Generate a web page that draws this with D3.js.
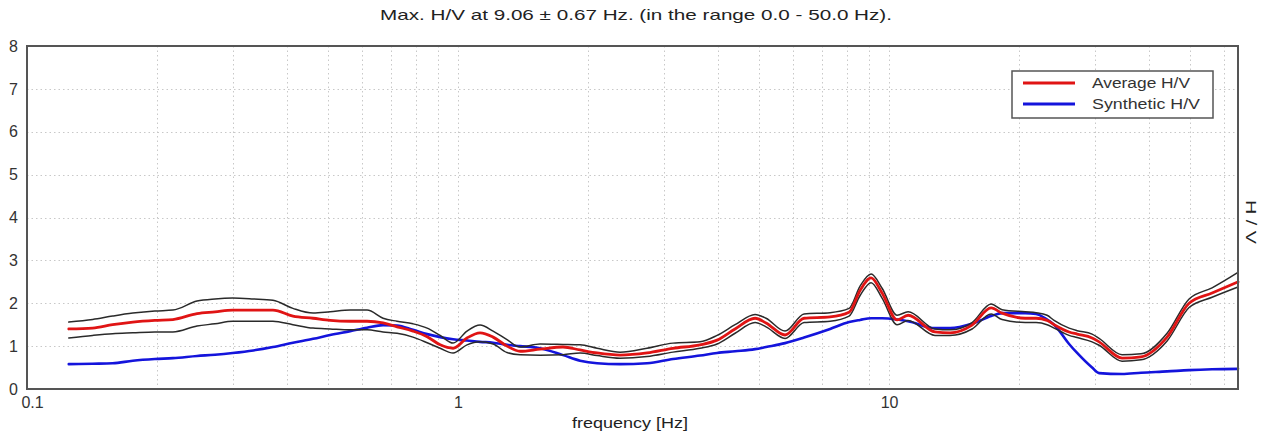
<!DOCTYPE html>
<html>
<head>
<meta charset="utf-8">
<script src="https://cdn.jsdelivr.net/npm/d3@7"></script>
<style>
  html, body { margin: 0; padding: 0; background: #ffffff; }
  svg { display: block; font-family: "Liberation Sans", Arial, sans-serif; }
</style>
</head>
<body>
<svg id="chart" width="1264" height="437"></svg>
<script>
// Frequency samples (Hz)
const frequency = [
  0.125, 0.142, 0.158, 0.176, 0.198, 0.218, 0.248, 0.273, 0.30, 0.335, 0.372, 0.414,
  0.461, 0.505, 0.562, 0.615, 0.670, 0.722, 0.786, 0.848, 0.909, 0.974,
  1.049, 1.125, 1.206, 1.299, 1.393, 1.550, 1.752, 1.919, 2.102, 2.376, 2.745, 3.153,
  3.643, 3.990, 4.393, 4.888, 5.183, 5.738, 6.351, 7.298, 8.077, 8.566, 9.085, 9.634,
  10.44, 11.07, 12.78, 13.85, 15.58, 17.25, 18.29, 20.69, 21.94, 23.26, 24.15, 26.16,
  27.31, 29.58, 30.71, 34.72, 38.43, 44.16, 49.67, 56.16, 64.5
];

// Average H/V curve
const averageHV = [
  1.40, 1.42, 1.50, 1.56, 1.60, 1.62, 1.76, 1.80, 1.84, 1.84, 1.84, 1.70,
  1.65, 1.60, 1.58, 1.58, 1.54, 1.45, 1.35, 1.22, 1.03, 0.95,
  1.19, 1.31, 1.21, 1.00, 0.88, 0.93, 0.98, 0.91, 0.84, 0.79, 0.84, 0.95,
  1.03, 1.14, 1.40, 1.65, 1.54, 1.26, 1.65, 1.68, 1.79, 2.30, 2.59, 2.24,
  1.61, 1.72, 1.33, 1.31, 1.49, 1.89, 1.77, 1.65, 1.65, 1.60, 1.50, 1.33,
  1.28, 1.19, 1.10, 0.72, 0.75, 1.21, 2.00, 2.24, 2.50
];

// Average H/V + standard deviation
const upperHV = [
  1.56, 1.62, 1.70, 1.77, 1.82, 1.84, 2.05, 2.10, 2.12, 2.10, 2.07, 1.88,
  1.77, 1.80, 1.84, 1.84, 1.65, 1.58, 1.52, 1.42, 1.25, 1.07,
  1.35, 1.49, 1.35, 1.15, 0.98, 1.05, 1.04, 1.03, 0.95, 0.86, 0.95, 1.07,
  1.10, 1.25, 1.50, 1.74, 1.65, 1.35, 1.75, 1.78, 1.88, 2.40, 2.68, 2.35,
  1.72, 1.80, 1.40, 1.38, 1.55, 1.98, 1.85, 1.80, 1.78, 1.72, 1.60, 1.42,
  1.36, 1.28, 1.18, 0.80, 0.82, 1.30, 2.10, 2.36, 2.72
];

// Average H/V - standard deviation
const lowerHV = [
  1.19, 1.25, 1.29, 1.31, 1.33, 1.33, 1.47, 1.52, 1.58, 1.58, 1.58, 1.50,
  1.42, 1.40, 1.38, 1.38, 1.33, 1.30, 1.21, 1.08, 0.95, 0.84,
  1.03, 1.10, 1.05, 0.85, 0.80, 0.79, 0.80, 0.84, 0.78, 0.72, 0.76, 0.86,
  0.95, 1.05, 1.30, 1.55, 1.45, 1.18, 1.55, 1.58, 1.70, 2.18, 2.48, 2.12,
  1.50, 1.60, 1.25, 1.25, 1.40, 1.75, 1.62, 1.55, 1.55, 1.50, 1.42, 1.25,
  1.20, 1.10, 1.02, 0.65, 0.68, 1.12, 1.90, 2.14, 2.38
];

// Synthetic H/V curve
const syntheticHV = [
  0.58, 0.59, 0.60, 0.66, 0.70, 0.72, 0.77, 0.80, 0.84, 0.90, 0.98, 1.08,
  1.17, 1.26, 1.35, 1.43, 1.49, 1.48, 1.38, 1.28, 1.21, 1.16,
  1.13, 1.10, 1.08, 1.03, 1.00, 0.95, 0.79, 0.66, 0.60, 0.58, 0.60, 0.70,
  0.78, 0.84, 0.88, 0.93, 0.98, 1.07, 1.20, 1.40, 1.56, 1.61, 1.65, 1.65,
  1.62, 1.58, 1.42, 1.42, 1.52, 1.70, 1.77, 1.77, 1.75, 1.62, 1.50, 1.05,
  0.84, 0.50, 0.37, 0.35, 0.38, 0.41, 0.44, 0.46, 0.47
];

const xTickValues = [0.1, 1, 10];
const yTickValues = [0, 1, 2, 3, 4, 5, 6, 7, 8];
const xGridValues = [0.2, 0.3, 0.4, 0.5, 0.6, 0.7, 0.8, 0.9,
                     1, 2, 3, 4, 5, 6, 7, 8, 9,
                     10, 20, 30, 40, 50, 60];
const titleText = "Max. H/V at 9.06 \u00B1 0.67 Hz. (in the range 0.0 - 50.0 Hz).";
const xLabel = "frequency [Hz]";
const yLabel = "H / V";
const legendLabels = ["Average H/V", "Synthetic H/V"];

const svg = d3.select("#chart");
const plot = { left: 27, right: 1238, top: 46, bottom: 389 };

const x = d3.scaleLog().domain([0.1, 64.5]).range([plot.left, plot.right]);
const y = d3.scaleLinear().domain([0, 8]).range([plot.bottom, plot.top]);

// Dotted grid
const grid = svg.append("g").attr("stroke", "#c8c8c8").attr("stroke-width", 1)
  .attr("stroke-dasharray", "1.5 3");
grid.selectAll("line.v").data(xGridValues).join("line")
  .attr("class", "v")
  .attr("x1", d => Math.round(x(d)) + 0.5).attr("x2", d => Math.round(x(d)) + 0.5)
  .attr("y1", plot.top).attr("y2", plot.bottom);
grid.selectAll("line.h").data(yTickValues.slice(1, -1)).join("line")
  .attr("class", "h")
  .attr("x1", plot.left).attr("x2", plot.right)
  .attr("y1", d => Math.round(y(d)) + 0.5).attr("y2", d => Math.round(y(d)) + 0.5);

// Curves
const line = vals => d3.line()
  .x((d, i) => x(frequency[i]))
  .y(d => y(d))
  .curve(d3.curveMonotoneX)(vals);

const curves = svg.append("g").attr("fill", "none")
  .attr("stroke-linejoin", "round").attr("stroke-linecap", "round");
curves.append("path").attr("d", line(syntheticHV))
  .attr("stroke", "#1414dc").attr("stroke-width", 2.6);
curves.append("path").attr("d", line(upperHV))
  .attr("stroke", "#2a2a2a").attr("stroke-width", 1.5);
curves.append("path").attr("d", line(lowerHV))
  .attr("stroke", "#2a2a2a").attr("stroke-width", 1.5);
curves.append("path").attr("d", line(averageHV))
  .attr("stroke", "#e01414").attr("stroke-width", 2.8);

// Axes
const xAxis = d3.axisBottom(x).tickValues(xTickValues)
  .tickFormat(d3.format("~g")).tickSize(0).tickPadding(8);
const gx = svg.append("g").attr("transform", `translate(0,${plot.bottom})`).call(xAxis);
gx.select(".domain").remove();
gx.selectAll("text").attr("font-size", 16).attr("fill", "#333")
  .attr("font-family", "'Liberation Sans', Arial, sans-serif")
  .attr("dx", d => d === 0.1 ? 5 : 0);

const yAxis = d3.axisLeft(y).tickValues(yTickValues).tickSize(0).tickPadding(9);
const gy = svg.append("g").attr("transform", `translate(${plot.left},0)`).call(yAxis);
gy.select(".domain").remove();
gy.selectAll("text").attr("font-size", 16).attr("fill", "#333")
  .attr("font-family", "'Liberation Sans', Arial, sans-serif");

// Frame
svg.append("rect")
  .attr("x", plot.left).attr("y", plot.top)
  .attr("width", plot.right - plot.left).attr("height", plot.bottom - plot.top)
  .attr("fill", "none").attr("stroke", "#555").attr("stroke-width", 2);

// Titles
svg.append("text").attr("x", 636).attr("y", 20).attr("text-anchor", "middle")
  .attr("font-size", 15).attr("fill", "#222")
  .attr("textLength", 512).attr("lengthAdjust", "spacingAndGlyphs").text(titleText);
svg.append("text").attr("x", 630).attr("y", 428).attr("text-anchor", "middle")
  .attr("font-size", 15).attr("fill", "#222")
  .attr("textLength", 116).attr("lengthAdjust", "spacingAndGlyphs").text(xLabel);
svg.append("text").attr("transform", "translate(1246,222) rotate(90)")
  .attr("text-anchor", "middle").attr("font-size", 15).attr("fill", "#222")
  .attr("textLength", 44).attr("lengthAdjust", "spacingAndGlyphs").text(yLabel);

// Legend
const legend = svg.append("g").attr("transform", "translate(1012,71)");
legend.append("rect").attr("width", 201).attr("height", 47)
  .attr("fill", "#fff").attr("stroke", "#555").attr("stroke-width", 1.5);
const legendColors = ["#e01414", "#1414dc"];
const legendWidths = [98, 108];
legendLabels.forEach((lab, i) => {
  const yy = 12 + i * 21;
  legend.append("line").attr("x1", 11).attr("x2", 63).attr("y1", yy).attr("y2", yy)
    .attr("stroke", legendColors[i]).attr("stroke-width", 3);
  legend.append("text").attr("x", 80).attr("y", yy + 5)
    .attr("font-size", 14).attr("fill", "#333")
    .attr("textLength", legendWidths[i]).attr("lengthAdjust", "spacingAndGlyphs").text(lab);
});
</script>
</body>
</html>
